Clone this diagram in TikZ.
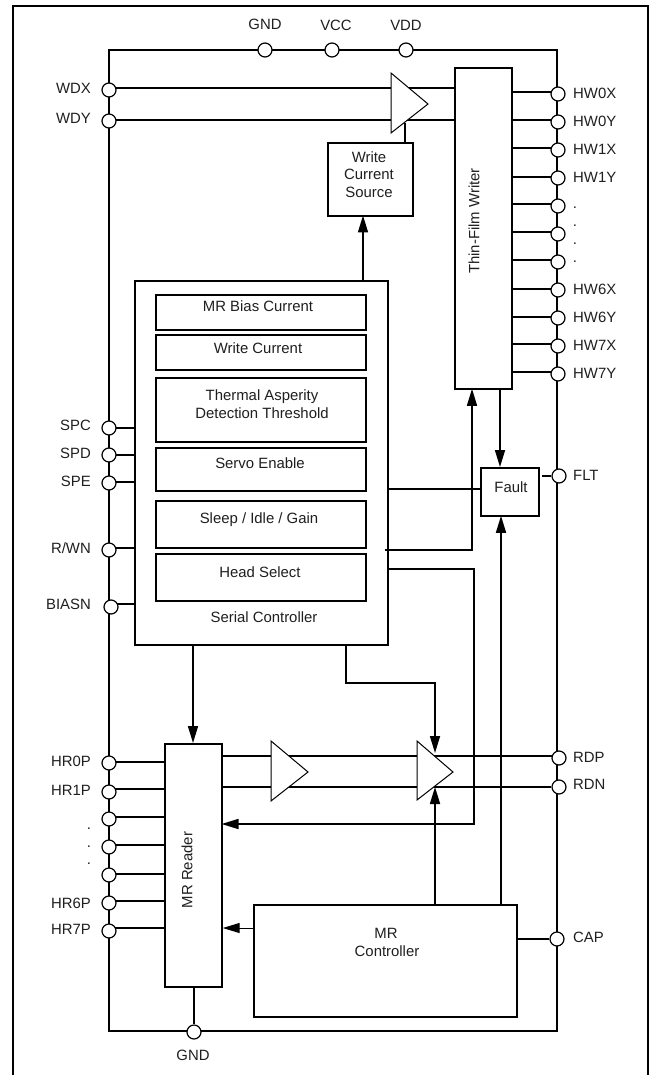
\documentclass[tikz,border=0pt]{standalone}
\usepackage{fontspec}
\setmainfont{Liberation Sans}
\usetikzlibrary{arrows.meta,backgrounds,calc}
\definecolor{ink}{gray}{0.12}
\tikzset{
  wire/.style={line width=1.6pt,draw=black},
  tip/.style={-{Triangle[length=17pt,width=10pt]}},
  arr/.style={wire,tip},
  pinc/.style={circle,draw=black,fill=white,line width=1.2pt,minimum size=14pt,inner sep=0pt},
  box/.style={rectangle,draw=black,fill=white,line width=1.7pt,anchor=north west,inner sep=0pt},
  amp/.style={draw=black,fill=white,line width=1pt,line join=miter},
  lbl/.style={inner sep=0pt,text=ink,text height=10.6pt,text depth=0pt},
  lleft/.style={lbl,anchor=east},
  lright/.style={lbl,anchor=west},
  dotl/.style={inner sep=0pt,text=ink}
}
\newcommand{\bx}[5]{\node[box,minimum width=#4pt-#2pt,minimum height=#5pt-#3pt] (#1) at (#2,#3) {};}
\begin{document}
\begin{tikzpicture}[x=1pt,y=-1pt,font=\fontsize{14.9}{17}\selectfont]
\useasboundingbox (0,0) rectangle (651,1075);
% frame
\coordinate (fbl) at (12.7,1075);
\coordinate (ftl) at (12.7,6);
\coordinate (ftr) at (648,6);
\coordinate (fbr) at (648,1075);
\draw[line width=2pt] (fbl) -- (ftl) -- (ftr) -- (fbr);
% bus corners
\coordinate (btl) at (109,50);
\coordinate (btr) at (556.7,50);
\coordinate (bbl) at (109,1031);
\coordinate (bbr) at (556.7,1031);
% boxes
\bx{writer}{454}{67}{511}{388}
\bx{wcs}{327}{142}{412}{215}
\bx{serial}{134}{280}{387}{644}
\bx{ib1}{155}{294}{365}{329}
\bx{ib2}{155}{334}{365}{369}
\bx{ib3}{155}{377}{365}{441}
\bx{ib4}{155}{447}{365}{490}
\bx{ib5}{155}{500}{365}{547}
\bx{ib6}{155}{553}{365}{600}
\bx{fault}{480}{467}{538}{515}
\bx{reader}{164}{743}{221}{986}
\bx{ctrl}{253}{904}{516}{1016}
\node[lbl] (t1) at (258,306) {MR Bias Current};
\node[lbl] (t2) at (258,348) {Write Current};
\node[lbl] (t3a) at (262,395) {Thermal Asperity};
\node[lbl] (t3b) at (262,413) {Detection Threshold};
\node[lbl] (t4) at (260,463) {Servo Enable};
\node[lbl] (t5) at (259,518) {Sleep / Idle / Gain};
\node[lbl] (t6) at (260,572) {Head Select};
\node[lbl] (t7) at (264,617) {Serial Controller};
\node[lbl] (w1) at (369,157) {Write};
\node[lbl] (w2) at (369,174.5) {Current};
\node[lbl] (w3) at (369,192.5) {Source};
\node[lbl] (fl) at (511,487) {Fault};
\node[lbl] (c1) at (386,933) {MR};
\node[lbl] (c2) at (387,951) {Controller};
\node[lbl,rotate=90] (writerl) at (474,221) {Thin-Film Writer};
\node[lbl,rotate=90] (readerl) at (187,870) {MR Reader};
% pins top
\node[pinc] (pgnd) at (265,50) {};
\node[pinc] (pvcc) at (332,50) {};
\node[pinc] (pvdd) at (406,50) {};
\node[lbl] (lgnd) at (265,24) {GND};
\node[lbl] (lvcc) at (336,25) {VCC};
\node[lbl] (lvdd) at (406,25) {VDD};
% pins left
\foreach \n/\t/\y/\ly in {wdx/WDX/90/88,wdy/WDY/121/118,hr0/HR0P/763/761,hr1/HR1P/792/790,hr6/HR6P/903/903,hr7/HR7P/931/929,spc/SPC/428/425,spd/SPD/455/453,spe/SPE/483/481,rwn/R\slash WN/550/548}{
  \node[pinc] (\n) at (109,\y) {};
  \node[lleft] (l\n) at (91,\ly) {\t};
}
\node[pinc] (bias) at (111,607) {};
\node[lleft] (lbias) at (91,604) {BIASN};
\foreach \n/\y in {hr2/819,hr3/847,hr4/875}{\node[pinc] (\n) at (109,\y) {};}
\foreach \n/\y in {d1/829,d2/847,d3/864}{\node[dotl] (\n) at (89,\y) {.};}
% pins right
\foreach \n/\t/\y in {hw0/HW0X/94,hw1/HW0Y/122,hw2/HW1X/150,hw3/HW1Y/178,hw8/HW6X/290,hw9/HW6Y/318,hw10/HW7X/346,hw11/HW7Y/374}{
  \node[pinc] (\n) at (558,\y) {};
  \node[lright] (l\n) at (573,\y-0.5) {\t};
}
\foreach \n/\y in {hw4/206,hw5/234,hw6/262}{\node[pinc] (\n) at (558,\y) {};}
\foreach \n/\y in {e1/208,e2/226,e3/244,e4/262}{\node[dotl] (\n) at (575,\y) {.};}
\node[pinc] (flt) at (559,476) {};
\node[lright] (lflt) at (573,475) {FLT};
\node[pinc] (rdp) at (559,758) {};
\node[lright] (lrdp) at (573,757) {RDP};
\node[pinc] (rdn) at (559,787) {};
\node[lright] (lrdn) at (573,784) {RDN};
\node[pinc] (cap) at (557,939) {};
\node[lright] (lcap) at (573,937) {CAP};
\node[pinc] (gndb) at (194,1032) {};
\node[lbl] (lgndb) at (193,1055) {GND};
% amplifier corners
\coordinate (a1a) at (391,73); \coordinate (a1b) at (391,133); \coordinate (a1c) at (428,104);
\coordinate (a2a) at (271,741); \coordinate (a2b) at (271,801); \coordinate (a2c) at (308,772);
\coordinate (a3a) at (417,741); \coordinate (a3b) at (417,800); \coordinate (a3c) at (453,772);
% route points
\coordinate (a3top) at (435,753);
\coordinate (a3bot) at (435,787);
\coordinate (r1) at (346,683);
\coordinate (ffw) at (542,476);
\coordinate (hs) at (474,569);
\begin{scope}[on background layer]
  \draw[wire] (bbl) -- (btl) -- (btr) -- (bbr) -- cycle;
  \draw[wire] (wdx.center |- 0,88) -- (writer.west |- 0,88);
  \draw[wire] (wdy.center |- 0,120) -- (writer.west |- 0,120);
  \foreach \n/\o in {hw0/2,hw1/2,hw2/2,hw3/1,hw4/2,hw5/2,hw6/2,hw8/1,hw9/1,hw10/2,hw11/2}{\draw[wire] ([yshift=\o pt]\n.center) -- ([yshift=\o pt]\n.center -| writer.east);}
  \foreach \n/\o in {spc/0,spd/0,spe/1,rwn/2}{\draw[wire] ([yshift=\o pt]\n.center) -- ([yshift=\o pt]\n.center -| serial.west);}
  \draw[wire] ([yshift=3pt]bias.center) -- (137,604);
  \foreach \n/\o in {hr0/1,hr1/3,hr2/2,hr3/2,hr4/1,hr6/2}{\draw[wire] ([yshift=\o pt]\n.center) -- ([yshift=\o pt]\n.center -| reader.west);}
  \draw[wire] ([yshift=3pt]hr7.center) -- (166,928);
  \draw[wire] (ffw) -- (flt);
  \draw[wire] (cap) -- (cap -| ctrl.east);
  \draw[wire] (reader.south -| gndb) -- (gndb);
  \draw[wire] (wcs.north -| 405,142) -- (405,123);
  \draw[wire] (221,756) -- (rdp.center |- 0,756);
  \draw[wire] (221,787) -- (rdn);
  \draw[wire] (serial.east |- 0,489) -- (fault.west |- 0,489);
\end{scope}
\draw[amp] (a1a) -- (a1b) -- (a1c) -- cycle;
\draw[amp] (a2a) -- (a2b) -- (a2c) -- cycle;
\draw[amp] (a3a) -- (a3b) -- (a3c) -- cycle;
\draw[arr] (363,280) -- (363,215.5);
\draw[arr] (385,550) -- (472,550) -- (472,388.8);
\draw[arr] (500,388) -- (500,467);
\draw[arr] (serial.east |- hs) -- (hs) -- (474,824) -- (221.5,824);
\draw[arr] (501,904) -- (501,515.8);
\draw[arr] (193,644) -- (193,743);
\draw[arr] (346,644) -- (r1) -- (r1 -| a3top) -- (a3top);
\draw[arr] (ctrl.north -| a3bot) -- (a3bot);
\draw[wire,line width=1pt,tip] (ctrl.west |- 0,928) -- (reader.east |- 0,928);
\end{tikzpicture}
\end{document}
